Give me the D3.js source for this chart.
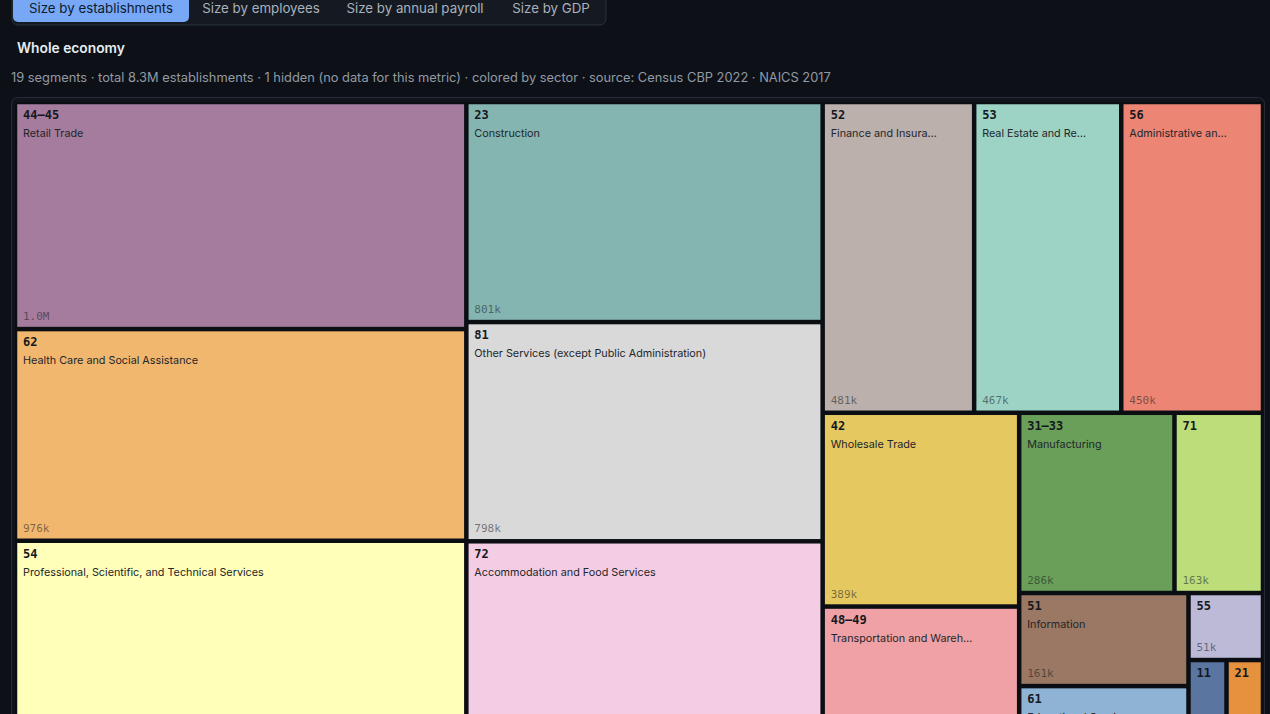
<!DOCTYPE html>
<html>
<head>
<meta charset="utf-8">
<script src="https://cdn.jsdelivr.net/npm/d3@7"></script>
<style>
  html, body { margin: 0; padding: 0; background: #0d1117; overflow: hidden; }
  svg { display: block; }
</style>
</head>
<body>
<script>

// NAICS sectors, sorted by establishments (thousands)
var codes = ["44–45", "62", "54", "23", "81", "72", "52", "53", "56", "42",
             "48–49", "31–33", "71", "51", "61", "55", "11", "21", "22"];

var names = ["Retail Trade", "Health Care and Social Assistance",
             "Professional, Scientific, and Technical Services", "Construction",
             "Other Services (except Public Administration)", "Accommodation and Food Services",
             "Finance and Insurance", "Real Estate and Rental and Leasing",
             "Administrative and Support and Waste Management and Remediation Services",
             "Wholesale Trade", "Transportation and Warehousing", "Manufacturing",
             "Arts, Entertainment, and Recreation", "Information", "Educational Services",
             "Management of Companies and Enterprises",
             "Agriculture, Forestry, Fishing and Hunting",
             "Mining, Quarrying, and Oil and Gas Extraction", "Utilities"];

var establishments = [1047, 976, 974, 801, 798, 767, 481, 467, 450, 389,
                      292, 286, 163, 161, 114, 51, 25, 24, 21];

var sectorColors = ["#a57c9d", "#f2b76f", "#ffffb9", "#85b5b1", "#d9d9d9", "#f4cde5",
                    "#bbb0ab", "#9dd3c5", "#ec8574", "#e6c860", "#f0a1a6", "#699f59",
                    "#bcdd7a", "#9a7863", "#8fb3d5", "#bdbad8", "#5a76a0", "#e6913e", "#d4a6c8"];

var tabs = ["Size by establishments", "Size by employees", "Size by annual payroll", "Size by GDP"];

window.onload = function() {
    draw();
};

function fmt(v) {
    if (v >= 1000) return (v / 1000).toFixed(1) + "M";
    return Math.round(v) + "k";
}

function draw() {

    var w = 1270;
    var h = 770;

    var svg = d3.select("body")
                .append("svg")
                .attr("width", w)
                .attr("height", h);

    // tab bar (scrolled partly off the top)
    var tabX = [13, 189, 333, 497, 605];
    svg.append("rect")
       .attr("x", 12).attr("y", -14)
       .attr("width", 594).attr("height", 39)
       .attr("rx", 6)
       .attr("fill", "#151a22")
       .attr("stroke", "#2b323b");

    svg.append("rect")
       .attr("x", 13).attr("y", -12)
       .attr("width", 176).attr("height", 34)
       .attr("rx", 5)
       .attr("fill", "#78a8f5");

    svg.selectAll("text.tab")
       .data(tabs)
       .enter()
       .append("text")
       .attr("class", "tab")
       .attr("x", function(d, i) { return (tabX[i] + tabX[i + 1]) / 2; })
       .attr("y", 13)
       .attr("text-anchor", "middle")
       .style("font-family", "Inter, 'Noto Sans', sans-serif")
       .style("font-size", "13.3px")
       .style("fill", function(d, i) { return i == 0 ? "#0c1a30" : "#a9b1bb"; })
       .text(function(d) { return d; });

    // title + subtitle
    svg.append("text")
       .attr("x", 17).attr("y", 53)
       .style("font-family", "Inter, 'Noto Sans', sans-serif")
       .style("font-size", "13.8px")
       .style("font-weight", "600")
       .style("fill", "#e6edf3")
       .text("Whole economy");

    var total = d3.sum(establishments);
    svg.append("text")
       .attr("x", 11).attr("y", 82)
       .style("font-family", "Inter, 'Noto Sans', sans-serif")
       .style("font-size", "12.85px")
       .style("fill", "#939aa4")
       .text(codes.length + " segments · total " + (total / 1000).toFixed(1) + "M establishments · 1 hidden (no data for this metric) · colored by sector · source: Census CBP 2022 · NAICS 2017");

    // frame
    svg.append("rect")
       .attr("x", 11.5).attr("y", 97.5)
       .attr("width", 1253).attr("height", 664)
       .attr("rx", 6)
       .attr("fill", "#10151c")
       .attr("stroke", "#262d36");

    var dataset = codes.map(function(c, i) {
        return {code: c, name: names[i], value: establishments[i], color: sectorColors[i]};
    });

    var root = d3.hierarchy({children: dataset})
                 .sum(function(d) { return d.value || 0; })
                 .sort(function(a, b) { return b.value - a.value; });

    d3.treemap()
      .tile(d3.treemapSquarify)
      .size([1248, 650])(root);

    var g = svg.append("g")
               .attr("transform", "translate(15,102)");

    var cell = g.selectAll("g.cell")
                .data(root.leaves())
                .enter()
                .append("g")
                .attr("class", "cell")
                .attr("transform", function(d) { return "translate(" + d.x0 + "," + d.y0 + ")"; });

    cell.append("rect")
        .attr("x", 1)
        .attr("y", 1)
        .attr("width", function(d) { return Math.max(0, d.x1 - d.x0 - 2); })
        .attr("height", function(d) { return Math.max(0, d.y1 - d.y0 - 2); })
        .attr("fill", function(d) { return d.data.color; })
        .attr("stroke", "#0b0e13")
        .attr("stroke-width", 2.5);

    // sector code
    cell.append("text")
        .attr("x", 8)
        .attr("y", 17)
        .style("font-family", "'DejaVu Sans Mono', monospace")
        .style("font-size", "12px")
        .style("font-weight", "bold")
        .style("fill", "#15181d")
        .text(function(d) { return d.data.code; });

    // sector name, cut to fit
    cell.append("text")
        .attr("x", 8)
        .attr("y", 35)
        .style("font-family", "Inter, 'Noto Sans', sans-serif")
        .style("font-size", "10.8px")
        .style("fill", "#23262b")
        .text(function(d) {
            var cw = d.x1 - d.x0;
            if (cw < 100) return "";
            var n = Math.floor((cw - 7) / 7.7);
            var s = d.data.name;
            return s.length > n ? s.slice(0, n) + "…" : s;
        });

    // value
    cell.append("text")
        .attr("x", 8)
        .attr("y", function(d) { return d.y1 - d.y0 - 9; })
        .style("font-family", "'DejaVu Sans Mono', monospace")
        .style("font-size", "11px")
        .style("fill", "rgba(20,24,30,0.55)")
        .text(function(d) {
            if (d.x1 - d.x0 < 45 || d.y1 - d.y0 < 50) return "";
            return fmt(d.value);
        });
}
</script>
</body>
</html>
